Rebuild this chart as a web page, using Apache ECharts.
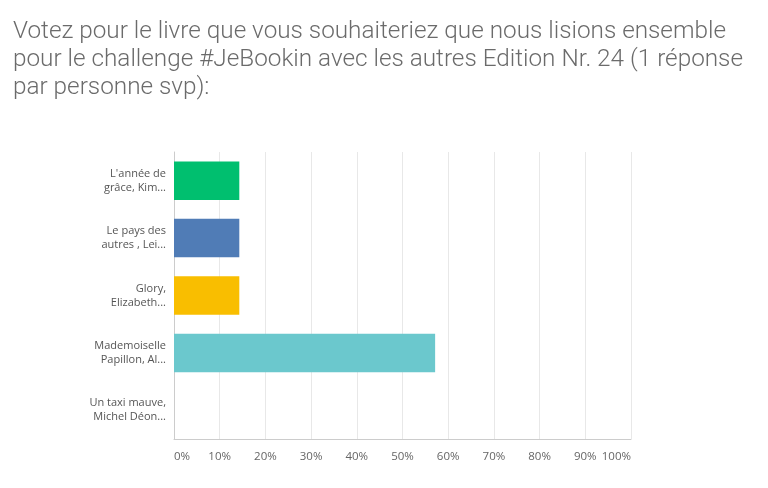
<!DOCTYPE html>
<html><head><meta charset="utf-8">
<script src="https://cdn.jsdelivr.net/npm/echarts@6/dist/echarts.min.js"></script>
<style>html,body{margin:0;padding:0;background:#fff}#c{width:768px;height:488px}</style>
</head><body><div id="c"></div>
<script>
const titleText = "Votez pour le livre que vous souhaiteriez que nous lisions ensemble\npour le challenge #JeBookin avec les autres Edition Nr. 24 (1 réponse\npar personne svp):";
const categories = ["L'année de\ngrâce, Kim...", "Le pays des\nautres , Lei...", "Glory,\nElizabeth...", "Mademoiselle\nPapillon, Al...", "Un taxi mauve,\nMichel Déon..."];
const values = [14.29, 14.29, 14.29, 57.14, 0];
const colors = ["#00bf6f", "#507cb6", "#f9be00", "#6bc8cd", "#d25f90"];

const chart = echarts.init(document.getElementById('c'));
chart.setOption({
  animation: false,
  title: {
    text: titleText, left: 8, top: 13,
    textStyle: { fontFamily: "Roboto", fontWeight: 300, fontSize: 24.3, lineHeight: 28, color: "#6b6b6b" }
  },
  grid: { left: 174, right: 137, top: 152, bottom: 49 },
  xAxis: {
    type: 'value', min: 0, max: 100, interval: 10,
    axisLine: { show: true, lineStyle: { color: "#cccccc" } },
    axisTick: { show: false },
    splitLine: { lineStyle: { color: "#e8e8e8" } },
    axisLabel: { formatter: '{value}%', color: "#666", fontSize: 11.5, fontFamily: "Open Sans", margin: 12, alignMinLabel: 'left', alignMaxLabel: 'right' }
  },
  yAxis: {
    type: 'category', data: categories, inverse: true,
    axisLine: { show: true, lineStyle: { color: "#cccccc" } },
    axisTick: { show: false },
    axisLabel: { color: "#555", fontSize: 11, fontFamily: "Open Sans", lineHeight: 14, margin: 8, align: 'right' }
  },
  series: [{
    type: 'bar', barCategoryGap: '33%',
    data: values.map((v, i) => ({ value: v, itemStyle: { color: colors[i] } }))
  }]
});
</script></body></html>
